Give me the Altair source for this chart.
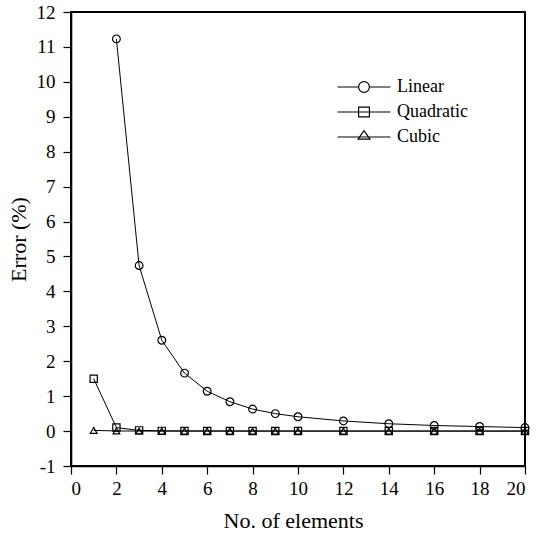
import altair as alt
import pandas as pd

FONT = "Liberation Serif, Times New Roman, Times, serif"

series_names = ["Linear", "Quadratic", "Cubic"]

x_linear = [2, 3, 4, 5, 6, 7, 8, 9, 10, 12, 14, 16, 18, 20]
err_linear = [11.23, 4.74, 2.60, 1.66, 1.14, 0.84, 0.63, 0.50, 0.41, 0.29, 0.21, 0.16, 0.13, 0.10]

x_quadratic = [1, 2, 3, 4, 5, 6, 7, 8, 9, 10, 12, 14, 16, 18, 20]
err_quadratic = [1.50, 0.10, 0.02, 0.006, 0.003, 0.002, 0.001, 0.001, 0.001, 0.0, 0.0, 0.0, 0.0, 0.0, 0.0]

x_cubic = [1, 2, 3, 4, 5, 6, 7, 8, 9, 10, 12, 14, 16, 18, 20]
err_cubic = [0.02, 0.003, 0.001, 0.0, 0.0, 0.0, 0.0, 0.0, 0.0, 0.0, 0.0, 0.0, 0.0, 0.0, 0.0]

x_ticks = [0, 2, 4, 6, 8, 10, 12, 14, 16, 18, 20]
y_ticks = [-1, 0, 1, 2, 3, 4, 5, 6, 7, 8, 9, 10, 11, 12]

rows = []
for name, xs, ys in [("Linear", x_linear, err_linear),
                     ("Quadratic", x_quadratic, err_quadratic),
                     ("Cubic", x_cubic, err_cubic)]:
    for xv, yv in zip(xs, ys):
        rows.append({"series": name, "n": xv, "err": yv})
df = pd.DataFrame(rows)

# legend symbols: marker with a line through it
legend_paths = [
    "M-4.4,0H-0.9A0.9,0.9 0 1,1 0.9,0A0.9,0.9 0 1,1 -0.9,0M0.9,0H4.4",
    "M-4.4,0H4.4M-0.9,-0.8H0.9V0.8H-0.9Z",
    "M-4.4,0H4.4M0,-1.05L1.0,0.35L-1.0,0.35Z",
]

x_enc = alt.X(
    "n:Q",
    scale=alt.Scale(domain=[0, 20], nice=False, zero=False),
    axis=alt.Axis(
        values=x_ticks, title="No. of elements", grid=False,
        tickSize=8, labelPadding=5, labelFontSize=19, labelFont=FONT,
        labelColor="black", domainColor="black", domainWidth=1.6,
        tickColor="black", tickWidth=1.2,
        titleFont=FONT, titleFontSize=22, titleFontWeight="normal",
        titleColor="black", titleX=222, titleY=61,
        titleBaseline="alphabetic", titleAlign="center",
    ),
)
y_enc = alt.Y(
    "err:Q",
    scale=alt.Scale(domain=[-1, 12], nice=False, zero=False),
    axis=alt.Axis(
        values=y_ticks, title="Error (%)", grid=False,
        labelExpr="'' + datum.value",
        tickSize=8, labelPadding=8, labelFontSize=19, labelFont=FONT,
        labelColor="black", domainColor="black", domainWidth=1.6,
        tickColor="black", tickWidth=1.2,
        titleFont=FONT, titleFontSize=22, titleFontWeight="normal",
        titleColor="black", titleX=-46, titleY=227, titleAngle=270,
        titleBaseline="alphabetic", titleAlign="center",
    ),
)

lines = alt.Chart(df).mark_line(color="black", strokeWidth=1).encode(
    x=x_enc, y=y_enc, detail="series:N", order="n:Q"
)

points = alt.Chart(df).mark_point(
    filled=False, opacity=1, color="black", strokeWidth=1.2
).encode(
    x=x_enc, y=y_enc,
    shape=alt.Shape("series:N", scale=alt.Scale(domain=series_names,
                    range=["circle", "square", "triangle-up"]), legend=None),
    size=alt.Size("series:N", scale=alt.Scale(domain=series_names,
                  range=[60, 45, 40]), legend=None),
)

legend_layer = alt.Chart(df).transform_filter("false").transform_calculate(
    legend_series="datum.series"
).mark_point(filled=False, opacity=1, color="black", strokeWidth=1.2).encode(
    x=x_enc, y=y_enc,
    shape=alt.Shape(
        "legend_series:N",
        scale=alt.Scale(domain=series_names, range=legend_paths),
        legend=alt.Legend(
            title=None, orient="none", legendX=284, legendY=66,
            padding=0, symbolSize=144, symbolStrokeWidth=1.2,
            symbolStrokeColor="black", symbolFillColor="transparent",
            symbolOpacity=1,
            labelFont=FONT, labelFontSize=18, labelColor="black",
            labelOffset=24, rowPadding=7,
        ),
    ),
)

chart = alt.layer(lines, points, legend_layer).resolve_scale(
    shape="independent", size="independent"
).properties(
    width=454, height=454,
    background="white",
    view=alt.ViewBackground(stroke="#000000", strokeWidth=2, strokeOpacity=1),
    autosize=alt.AutoSizeParams(type="none"),
    padding={"left": 71, "top": 12, "right": 12, "bottom": 68},
).configure_view(
    stroke="#000000", strokeWidth=2, strokeOpacity=1
)

chart.save("out.html", embed_options={"renderer": "svg", "actions": False})
